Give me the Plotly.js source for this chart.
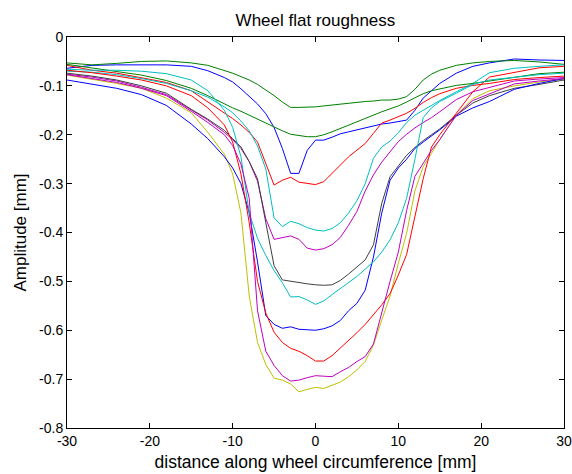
<!DOCTYPE html>
<html>
<head>
<meta charset="utf-8">
<script src="https://cdn.plot.ly/plotly-3.0.1.min.js"></script>
<style>html,body{margin:0;padding:0;background:#fff;}#chart{width:572px;height:474px;}</style>
</head>
<body>
<div id="chart"></div>
<script>
// distance along wheel circumference [mm]
var distance = [-30,-27,-24,-21,-18,-15,-13,-11,-10,-9,-8,-7,-6,-5,-4,-3,-2,-1,0,1,2,3,4,5,6,7,8,9,10,11,12,13,14,15,17,19,21,24,27,30];

var blue1 = [-0.064,-0.058,-0.057,-0.057,-0.057,-0.060,-0.069,-0.083,-0.092,-0.106,-0.121,-0.137,-0.157,-0.185,-0.228,-0.279,-0.279,-0.232,-0.211,-0.211,-0.205,-0.198,-0.194,-0.190,-0.187,-0.183,-0.178,-0.176,-0.173,-0.170,-0.150,-0.125,-0.110,-0.095,-0.074,-0.060,-0.053,-0.045,-0.047,-0.048];
var green1 = [-0.053,-0.057,-0.054,-0.050,-0.049,-0.053,-0.058,-0.068,-0.074,-0.081,-0.088,-0.097,-0.108,-0.120,-0.133,-0.144,-0.144,-0.144,-0.143,-0.141,-0.139,-0.137,-0.135,-0.134,-0.132,-0.131,-0.129,-0.129,-0.127,-0.122,-0.107,-0.088,-0.076,-0.068,-0.058,-0.053,-0.050,-0.048,-0.051,-0.056];
var red1 = [-0.058,-0.068,-0.074,-0.083,-0.093,-0.110,-0.133,-0.155,-0.167,-0.180,-0.195,-0.215,-0.260,-0.303,-0.293,-0.287,-0.297,-0.299,-0.302,-0.296,-0.280,-0.262,-0.245,-0.232,-0.218,-0.197,-0.176,-0.170,-0.163,-0.156,-0.146,-0.134,-0.124,-0.116,-0.105,-0.099,-0.095,-0.087,-0.083,-0.080];
var cyan1 = [-0.070,-0.072,-0.077,-0.085,-0.095,-0.110,-0.123,-0.143,-0.155,-0.172,-0.192,-0.223,-0.270,-0.370,-0.388,-0.377,-0.382,-0.390,-0.395,-0.397,-0.392,-0.380,-0.360,-0.335,-0.300,-0.248,-0.225,-0.213,-0.196,-0.175,-0.160,-0.150,-0.140,-0.130,-0.112,-0.095,-0.073,-0.064,-0.060,-0.057];
var magenta1 = [-0.076,-0.082,-0.090,-0.103,-0.118,-0.150,-0.170,-0.195,-0.210,-0.228,-0.255,-0.295,-0.372,-0.414,-0.411,-0.407,-0.414,-0.432,-0.436,-0.433,-0.425,-0.410,-0.385,-0.357,-0.315,-0.282,-0.256,-0.234,-0.214,-0.199,-0.186,-0.175,-0.165,-0.153,-0.128,-0.112,-0.103,-0.090,-0.086,-0.083];
var yellow1 = [-0.078,-0.086,-0.095,-0.105,-0.125,-0.155,-0.195,-0.240,-0.280,-0.360,-0.530,-0.625,-0.670,-0.698,-0.702,-0.710,-0.726,-0.721,-0.717,-0.719,-0.713,-0.706,-0.695,-0.681,-0.664,-0.630,-0.579,-0.530,-0.463,-0.402,-0.315,-0.265,-0.238,-0.210,-0.160,-0.126,-0.110,-0.100,-0.092,-0.086];
var black1 = [-0.074,-0.080,-0.088,-0.100,-0.115,-0.148,-0.168,-0.191,-0.208,-0.225,-0.255,-0.290,-0.380,-0.468,-0.497,-0.500,-0.503,-0.505,-0.507,-0.508,-0.507,-0.498,-0.485,-0.470,-0.456,-0.425,-0.340,-0.286,-0.265,-0.242,-0.226,-0.212,-0.200,-0.188,-0.160,-0.135,-0.120,-0.105,-0.097,-0.088];
var blue2 = [-0.088,-0.097,-0.105,-0.118,-0.140,-0.178,-0.208,-0.245,-0.268,-0.300,-0.360,-0.460,-0.570,-0.588,-0.596,-0.593,-0.598,-0.599,-0.600,-0.597,-0.591,-0.580,-0.560,-0.545,-0.518,-0.450,-0.360,-0.293,-0.268,-0.250,-0.228,-0.215,-0.202,-0.190,-0.162,-0.145,-0.132,-0.107,-0.095,-0.085];
var green2 = [-0.056,-0.063,-0.070,-0.078,-0.089,-0.105,-0.120,-0.137,-0.145,-0.152,-0.160,-0.168,-0.176,-0.185,-0.192,-0.199,-0.202,-0.204,-0.204,-0.200,-0.194,-0.187,-0.180,-0.173,-0.167,-0.160,-0.153,-0.147,-0.141,-0.133,-0.124,-0.116,-0.110,-0.106,-0.099,-0.095,-0.090,-0.082,-0.075,-0.072];
var red2 = [-0.068,-0.073,-0.080,-0.088,-0.100,-0.120,-0.145,-0.180,-0.215,-0.280,-0.380,-0.500,-0.565,-0.604,-0.625,-0.637,-0.643,-0.652,-0.663,-0.663,-0.652,-0.637,-0.622,-0.605,-0.588,-0.568,-0.548,-0.525,-0.487,-0.445,-0.370,-0.290,-0.225,-0.200,-0.156,-0.112,-0.082,-0.073,-0.063,-0.060];
var cyan2 = [-0.066,-0.068,-0.068,-0.070,-0.075,-0.088,-0.110,-0.150,-0.185,-0.245,-0.360,-0.412,-0.447,-0.478,-0.503,-0.532,-0.531,-0.538,-0.547,-0.540,-0.527,-0.515,-0.503,-0.490,-0.475,-0.460,-0.440,-0.415,-0.380,-0.330,-0.250,-0.165,-0.145,-0.132,-0.115,-0.097,-0.088,-0.082,-0.077,-0.074];
var magenta2 = [-0.077,-0.085,-0.093,-0.105,-0.120,-0.152,-0.175,-0.200,-0.222,-0.260,-0.330,-0.560,-0.643,-0.672,-0.693,-0.704,-0.702,-0.697,-0.693,-0.694,-0.695,-0.685,-0.676,-0.664,-0.654,-0.628,-0.562,-0.500,-0.440,-0.355,-0.285,-0.258,-0.232,-0.210,-0.160,-0.130,-0.117,-0.096,-0.090,-0.085];

var seriesList = [blue1, green1, red1, cyan1, magenta1, yellow1, black1, blue2, green2, red2, cyan2, magenta2];
var colorOrder = ['#0000FF','#008000','#FF0000','#00BFBF','#BF00BF','#BFBF00','#404040'];

var xTickVals = [-30,-20,-10,0,10,20,30];
var xTickText = ['-30','-20','-10','0','10','20','30'];
var yTickVals = [-0.8,-0.7,-0.6,-0.5,-0.4,-0.3,-0.2,-0.1,0];
var yTickText = ['-0.8','-0.7','-0.6','-0.5','-0.4','-0.3','-0.2','-0.1','0'];

var traces = seriesList.map(function(s, i){
  return {x: distance, y: s, type: 'scatter', mode: 'lines',
          line: {color: colorOrder[i % colorOrder.length], width: 1}, hoverinfo: 'none'};
});

var fontFam = '"Liberation Sans", Arial, Helvetica, sans-serif';
var layout = {
  width: 572, height: 474,
  margin: {l: 67, r: 8, t: 37, b: 46},
  paper_bgcolor: '#fff', plot_bgcolor: '#fff',
  showlegend: false,
  font: {family: fontFam, color: '#000', size: 14},
  title: {text: 'Wheel flat roughness', x: 0.5515, xanchor: 'center', y: 0.958, yanchor: 'middle', font: {size: 17, family: fontFam, color: '#000'}},
  xaxis: {range: [-30, 30], tickvals: xTickVals, ticktext: xTickText, ticks: 'inside', ticklen: 5, tickcolor: '#000',
          showline: true, linecolor: '#000', linewidth: 1, mirror: 'ticks', showgrid: false, zeroline: false,
          tickfont: {size: 14}, title: {text: 'distance along wheel circumference [mm]', font: {size: 17.5}, standoff: 7}},
  yaxis: {range: [-0.8, 0], tickvals: yTickVals, ticktext: yTickText, ticks: 'inside', ticklen: 5, tickcolor: '#000',
          showline: true, linecolor: '#000', linewidth: 1, mirror: 'ticks', showgrid: false, zeroline: false,
          tickfont: {size: 14}, title: {text: 'Amplitude [mm]', font: {size: 17}, standoff: 8}}
};
Plotly.newPlot('chart', traces, layout, {staticPlot: true, displayModeBar: false});
</script>
</body>
</html>
